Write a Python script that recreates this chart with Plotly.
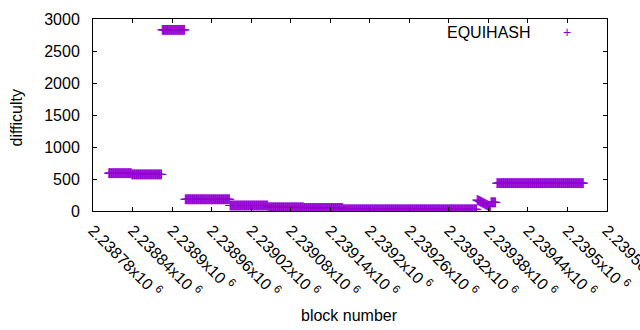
import plotly.graph_objects as go

# ---- data ----
# constant-difficulty runs of blocks: start block, end block, difficulty
seg_start = [2238804, 2238839, 2238885, 2238920, 2238988, 2239046, 2239100, 2239160, 2239393]
seg_end   = [2238838, 2238884, 2238919, 2238987, 2239045, 2239099, 2239159, 2239362, 2239524]
seg_value = [591, 572, 2830, 183, 86, 57, 47, 26, 435]

# transitional blocks read individually
trans_blocks = list(range(2239363, 2239392))
trans_values = [172, 168, 162, 158, 152, 147, 141, 136, 131, 126, 120, 115, 110,
                104, 99, 94, 88, 83, 78, 72, 68, 140, 136, 134, 137, 135, 138, 136, 134]

x_tickvals = [2238780, 2238840, 2238900, 2238960, 2239020, 2239080, 2239140,
              2239200, 2239260, 2239320, 2239380, 2239440, 2239500, 2239560]
x_ticktext = ["2.23878", "2.23884", "2.2389", "2.23896", "2.23902", "2.23908", "2.23914",
              "2.2392", "2.23926", "2.23932", "2.23938", "2.23944", "2.2395", "2.23956"]
y_tickvals = [0, 500, 1000, 1500, 2000, 2500, 3000]

series_name = "EQUIHASH"
x_title = "block number"
y_title = "difficulty"

# ---- build point list ----
xs, ys = [], []
for s, e, v in zip(seg_start, seg_end, seg_value):
    for b in range(s, e + 1):
        xs.append(b)
        ys.append(v)
xs += trans_blocks
ys += trans_values

COLOR = "#9400D3"
FONT = "Liberation Sans, Arial, sans-serif"
FS = 16

fig = go.Figure()
fig.add_trace(go.Scatter(
    x=xs, y=ys, mode="markers", name=series_name, showlegend=False,
    marker=dict(symbol="cross-thin", size=7, line=dict(width=1, color=COLOR), color=COLOR),
))

W, H = 640, 330
L, R, T, B = 93, 33, 19, 119
pw, ph = W - L - R, H - T - B

def px(x):
    return (x - L) / pw

def py(y):
    return (H - B - y) / ph

axis_common = dict(
    showline=True, linecolor="black", linewidth=1, mirror="ticks",
    ticks="inside", ticklen=4, tickcolor="black", tickwidth=1,
    showgrid=False, zeroline=False, automargin=False,
    tickfont=dict(family=FONT, size=FS, color="black"),
)

fig.update_layout(
    width=W, height=H,
    margin=dict(l=L, r=R, t=T, b=B, pad=0, autoexpand=False),
    paper_bgcolor="white", plot_bgcolor="white",
    font=dict(family=FONT, size=FS, color="black"),
    showlegend=False,
    xaxis=dict(
        range=[2238780, 2239560],
        tickmode="array", tickvals=x_tickvals,
        ticktext=[t + "x10 <sup>6</sup>" for t in x_ticktext],
        tickangle=45, ticklabelstandoff=3, ticklabeloverflow="allow",
        **axis_common,
    ),
    yaxis=dict(
        range=[0, 3000],
        tickmode="array", tickvals=y_tickvals,
        ticklabelstandoff=9,
        **axis_common,
    ),
    annotations=[
        dict(text=y_title, x=px(16), y=py(117.5), xref="paper", yref="paper",
             textangle=-90, showarrow=False, xanchor="center", yanchor="middle",
             font=dict(family=FONT, size=FS, color="black")),
        dict(text=x_title, x=px(349), y=py(315), xref="paper", yref="paper",
             showarrow=False, xanchor="center", yanchor="middle",
             font=dict(family=FONT, size=FS, color="black")),
        dict(text=series_name, x=px(533), y=py(32), xref="paper", yref="paper",
             showarrow=False, xanchor="right", yanchor="middle",
             font=dict(family=FONT, size=FS, color="black")),
        dict(text="+", x=px(567), y=py(32), xref="paper", yref="paper",
             showarrow=False, xanchor="center", yanchor="middle",
             font=dict(family=FONT, size=14, color=COLOR)),
    ],
)

fig.write_html("out.html")
